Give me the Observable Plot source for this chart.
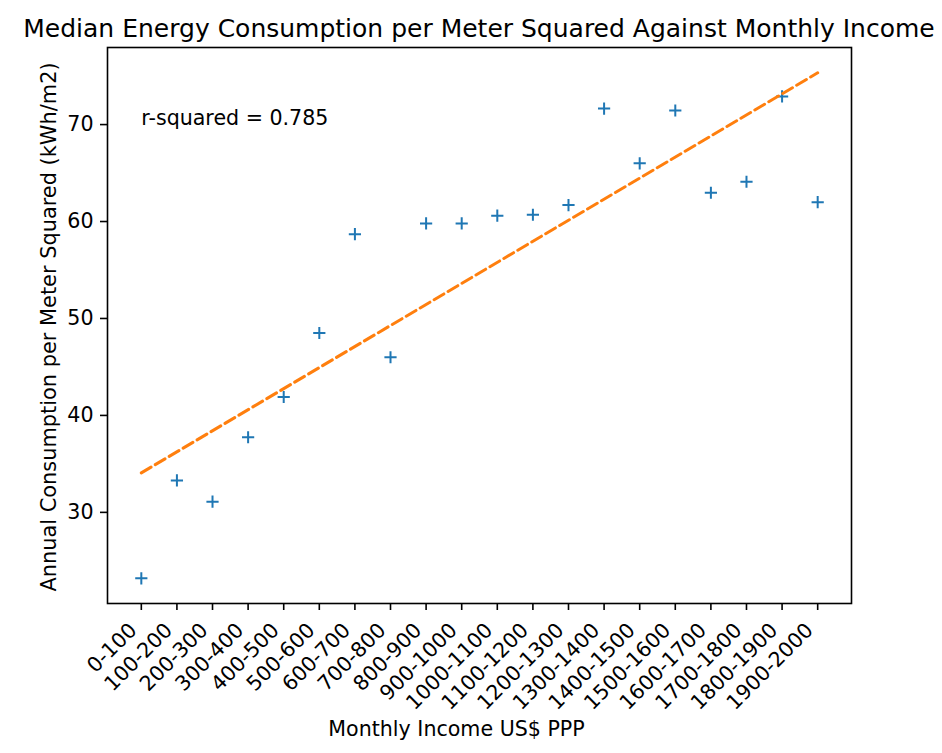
<!DOCTYPE html>
<html>
<head>
<meta charset="utf-8">
<script src="https://cdn.jsdelivr.net/npm/d3@7"></script>
<script src="https://cdn.jsdelivr.net/npm/@observablehq/plot@0.6"></script>
<style>
  body { margin: 0; background: #fff; }
  #title { position: relative; height: 40px; width: 942px; }
  #title span {
    position: absolute; left: 107px; width: 744px; top: 13.5px;
    display: flex; justify-content: center; white-space: nowrap;
    font-family: "DejaVu Sans"; font-size: 25px; line-height: 29px; color: #000;
  }
</style>
</head>
<body>
<div id="title"><span>Median Energy Consumption per Meter Squared Against Monthly Income</span></div>
<div id="chart"></div>
<script>
const incomeBands = ["0-100","100-200","200-300","300-400","400-500","500-600","600-700","700-800","800-900","900-1000","1000-1100","1100-1200","1200-1300","1300-1400","1400-1500","1500-1600","1600-1700","1700-1800","1800-1900","1900-2000"];
const consumption = [23.2,33.3,31.1,37.75,41.9,48.5,58.7,46.0,59.8,59.8,60.6,60.7,61.7,71.65,66.0,71.45,62.97,64.1,72.9,62.0];
const yTicks = [30,40,50,60,70];
const rSquaredText = "r-squared = 0.785";
const xLabel = "Monthly Income US$ PPP";
const yLabel = "Annual Consumption per Meter Squared (kWh/m2)";

const data = incomeBands.map((band, i) => ({i, band, v: consumption[i]}));

const plusSymbol = {
  draw(ctx, size) {
    const r = Math.sqrt(size / Math.PI);
    ctx.moveTo(-r, 0); ctx.lineTo(r, 0);
    ctx.moveTo(0, -r); ctx.lineTo(0, r);
  }
};

const fs = 20.6;
const chart = Plot.plot({
  width: 942,
  height: 713,
  marginTop: 7,
  marginBottom: 150,
  marginLeft: 107,
  marginRight: 91,
  style: {fontFamily: "DejaVu Sans", fontSize: fs + "px", color: "#000", background: "#fff", overflow: "visible"},
  x: {domain: [-0.95, 19.95]},
  y: {domain: [20.6, 77.95]},
  marks: [
    Plot.axisX(d3.range(incomeBands.length), {tickSize: 7, tickFormat: () => "", label: null, strokeWidth: 1.6}),
    Plot.axisY(yTicks, {tickSize: 7, tickPadding: 7, label: null, strokeWidth: 1.6, fontSize: fs}),
    Plot.text(data, {x: "i", text: "band", frameAnchor: "bottom", rotate: -45, textAnchor: "end", lineAnchor: "bottom", dx: -3.4, dy: 28, fontSize: fs}),
    Plot.text([yLabel], {frameAnchor: "left", text: d => d, rotate: -90, textAnchor: "middle", lineAnchor: "bottom", dx: -52, dy: 1.5, fontSize: 20.9}),
    Plot.text([xLabel], {frameAnchor: "bottom", text: d => d, textAnchor: "middle", lineAnchor: "bottom", dx: -23, dy: 132, fontSize: fs}),
    Plot.dot(data, {x: "i", y: "v", symbol: plusSymbol, r: 6.1, stroke: "#1f77b4", strokeWidth: 2, fill: "none"}),
    Plot.linearRegressionY(data, {x: "i", y: "v", ci: 0, stroke: "#ff7f0e", strokeWidth: 3, strokeDasharray: "11.3,4.9"}),
    Plot.text([rSquaredText], {x: 0, y: 70, text: d => d, textAnchor: "start", lineAnchor: "bottom", fontSize: fs}),
    Plot.frame({stroke: "#000", strokeWidth: 1.6})
  ]
});
document.getElementById("chart").appendChild(chart);
</script>
</body>
</html>
